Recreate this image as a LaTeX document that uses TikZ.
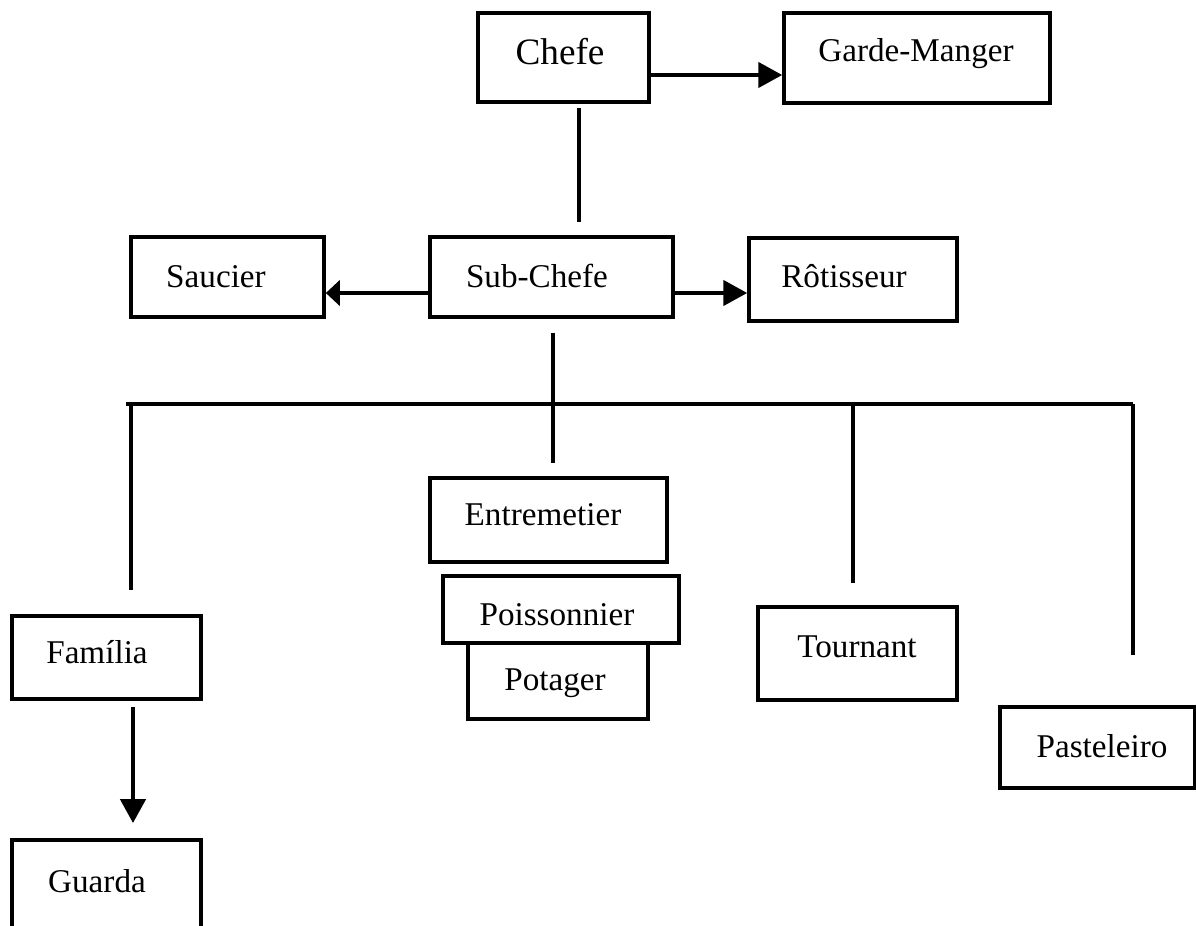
\documentclass[tikz,border=0pt]{standalone}
\usepackage{fontspec}
\setmainfont{Liberation Serif}
\usetikzlibrary{arrows.meta}
\begin{document}
\begin{tikzpicture}[x=0.025cm,y=-0.025cm,
  kbox/.style={draw, line width=2.6pt, inner sep=0pt, fill=none},
  lbl/.style={anchor=base, inner sep=0pt, font=\fontsize{23.6}{28}\selectfont},
  conn/.style={line width=2.5pt},
  arr/.style={line width=2.5pt, -{Triangle[length=17pt,width=18pt]}},
  sarr/.style={line width=2.5pt, -{Triangle[length=10pt,width=18pt]}}]
\path[use as bounding box, clip] (0,0) rectangle (1196,926);
\fill[white] (0,0) rectangle (1196,926);
% boxes
\node[kbox, minimum width=171*0.025cm, minimum height=89*0.025cm] (chefe) at (563.5,57.5) {};
\node[kbox, minimum width=266*0.025cm, minimum height=90*0.025cm] (garde) at (917,58) {};
\node[kbox, minimum width=193*0.025cm, minimum height=80*0.025cm] (saucier) at (227.5,277) {};
\node[kbox, minimum width=243*0.025cm, minimum height=80*0.025cm] (sub) at (551.5,277) {};
\node[kbox, minimum width=208*0.025cm, minimum height=83*0.025cm] (rot) at (853,279.5) {};
\node[kbox, minimum width=237*0.025cm, minimum height=84*0.025cm] (entre) at (548.5,520) {};
\node[kbox, minimum width=236*0.025cm, minimum height=67*0.025cm] (poisson) at (561,609.5) {};
\node[kbox, minimum width=180*0.025cm, minimum height=76*0.025cm] (potager) at (558,681) {};
\node[kbox, minimum width=189*0.025cm, minimum height=83*0.025cm] (familia) at (106.5,657.5) {};
\node[kbox, minimum width=189*0.025cm, minimum height=110*0.025cm] (guarda) at (106.5,895) {};
\node[kbox, minimum width=199*0.025cm, minimum height=93*0.025cm] (tournant) at (857.5,653.5) {};
\node[kbox, minimum width=195*0.025cm, minimum height=81*0.025cm] (pastel) at (1097.5,747.5) {};
% labels
\node[lbl, font=\fontsize{26.5}{30}\selectfont] (tchefe) at (560,65) {Chefe};
\node[lbl] (tgarde) at (916,62) {Garde-Manger};
\node[lbl] (tsaucier) at (216,287) {Saucier};
\node[lbl] (tsub) at (537,287) {Sub-Chefe};
\node[lbl] (trot) at (844,287) {Rôtisseur};
\node[lbl] (tentre) at (543,525) {Entremetier};
\node[lbl] (tpoisson) at (557,625) {Poissonnier};
\node[lbl] (tpotager) at (555,690) {Potager};
\node[lbl] (tfamilia) at (97,663) {Família};
\node[lbl] (tguarda) at (97,892) {Guarda};
\node[lbl] (ttournant) at (857,657) {Tournant};
\node[lbl] (tpastel) at (1102,757) {Pasteleiro};
% helper coordinates
\coordinate (ya) at (0,75);
\coordinate (yb) at (0,293);
\coordinate (c1) at (579,108);
\coordinate (c2) at (579,222);
\coordinate (s1) at (553,333);
\coordinate (s2) at (553,463);
\coordinate (hl) at (126,404);
\coordinate (hr) at (1133,404);
\coordinate (d1a) at (131,404);
\coordinate (d1b) at (131,590);
\coordinate (d2a) at (853,404);
\coordinate (d2b) at (853,583);
\coordinate (d3b) at (1133,655);
\coordinate (f1) at (133,707);
\coordinate (f2) at (133,823);
% connectors
\draw[arr] (chefe.east |- ya) -- (garde.west |- ya);
\draw[conn] (c1) -- (c2);
\draw[sarr] (sub.west |- yb) -- (saucier.east |- yb);
\draw[arr] (sub.east |- yb) -- (rot.west |- yb);
\draw[conn] (s1) -- (s2);
\draw[conn] (hl) -- (hr);
\draw[conn] (d1a) -- (d1b);
\draw[conn] (d2a) -- (d2b);
\draw[conn] (hr) -- (d3b);
\draw[arr] (f1) -- (f2);
\end{tikzpicture}
\end{document}
